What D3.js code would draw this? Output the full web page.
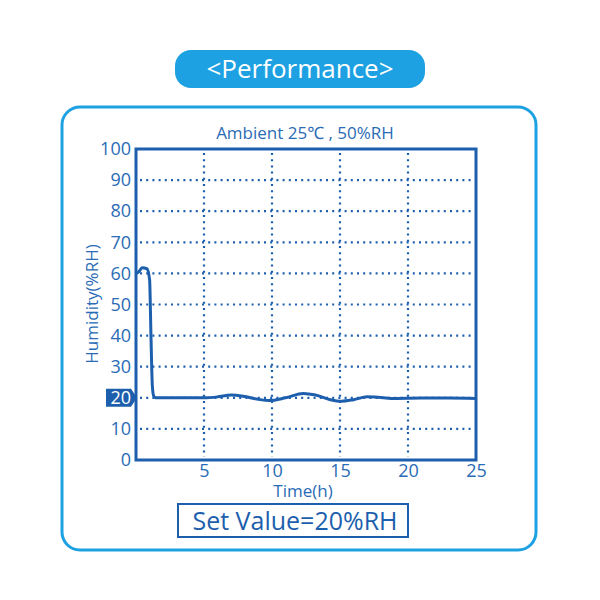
<!DOCTYPE html>
<html><head><meta charset="utf-8">
<script src="https://cdn.jsdelivr.net/npm/d3@7"></script>
<style>body{margin:0;background:#fff;}svg{display:block;font-family:"Open Sans","Noto Sans",sans-serif;}</style>
</head><body><svg id="c" width="600" height="600"></svg>
<script>
const pageTitle = "<Performance>";
const subTitle = "Ambient 25\u2103 , 50%RH";
const setValueLabel = "Set Value=20%RH";
const xLabel = "Time(h)";
const yLabel = "Humidity(%RH)";
const xTicks = [5, 10, 15, 20, 25];
const yTicks = [0, 10, 20, 30, 40, 50, 60, 70, 80, 90, 100];
const highlightTick = 20;
const timeH = [0, 0.2, 0.45, 0.8, 1.0, 1.1, 1.2, 1.3, 1.45, 3, 5, 6, 7, 8, 9, 9.8, 11, 12.3, 13.2, 14.3, 15.1, 16, 17, 18, 19, 21, 23, 25];
const humidity = [60, 60.5, 61.8, 61.5, 58, 40, 24, 20.6, 20, 20, 20, 20.3, 20.9, 20.4, 19.5, 19.1, 20, 21.4, 20.9, 19.4, 18.9, 19.4, 20.3, 20.1, 19.8, 19.9, 19.9, 19.8];

const svg = d3.select("#c");
const blue = "#1d5fad", light = "#1da1e2", textBlue = "#2a6bb5";

// outer frame
svg.append("rect").attr("x",62).attr("y",107).attr("width",474).attr("height",443)
  .attr("rx",18).attr("fill","#fff").attr("stroke",light).attr("stroke-width",3);
// title pill
svg.append("rect").attr("x",175).attr("y",50).attr("width",250).attr("height",38)
  .attr("rx",16).attr("fill",light);
svg.append("text").attr("x",300).attr("y",78).attr("text-anchor","middle")
  .attr("fill","#fff").attr("font-size",26).text(pageTitle);
svg.append("text").attr("x",305).attr("y",139).attr("text-anchor","middle")
  .attr("fill",textBlue).attr("font-size",17).text(subTitle);

const x = d3.scaleLinear().domain([0,25]).range([136,476]);
const y = d3.scaleLinear().domain([0,100]).range([460,149]);

// grid
const g = svg.append("g");
g.selectAll(".hg").data(yTicks.filter(d=>d>0&&d<100)).join("line")
  .attr("x1",x(0)+4).attr("x2",x(25)-3).attr("y1",d=>y(d)).attr("y2",d=>y(d))
  .attr("stroke",blue).attr("stroke-width",2.2).attr("stroke-dasharray","2 4.2");
g.selectAll(".vg").data(xTicks.filter(d=>d<25)).join("line")
  .attr("y1",y(100)+4).attr("y2",y(0)-3).attr("x1",d=>x(d)).attr("x2",d=>x(d))
  .attr("stroke",blue).attr("stroke-width",2.2).attr("stroke-dasharray","2 4.2");

// data line
const line = d3.line().x((d,i)=>x(timeH[i])).y(d=>y(d)).curve(d3.curveMonotoneX);
svg.append("path").datum(humidity).attr("d",line).attr("fill","none")
  .attr("stroke",blue).attr("stroke-width",3);

// frame axes
svg.append("rect").attr("x",x(0)).attr("y",y(100)).attr("width",x(25)-x(0)).attr("height",y(0)-y(100))
  .attr("fill","none").attr("stroke",blue).attr("stroke-width",3);

// y axis
const ya = svg.append("g").attr("transform",`translate(${x(0)-2},0)`)
  .call(d3.axisLeft(y).tickValues(yTicks).tickSize(0).tickPadding(3));
ya.select(".domain").remove();
ya.selectAll("text").attr("fill",d=>d===highlightTick?"#fff":textBlue).attr("font-size",18)
  .attr("font-family","'Open Sans',sans-serif");
const hy = y(highlightTick);
svg.insert("path", () => ya.node()).attr("d",`M106,${hy-9} L131,${hy-9} L137,${hy} L131,${hy+9} L106,${hy+9} Z`)
  .attr("fill",blue);

// x axis
const xa = svg.append("g").attr("transform",`translate(0,${y(0)+2})`)
  .call(d3.axisBottom(x).tickValues(xTicks).tickSize(0).tickPadding(2));
xa.select(".domain").remove();
xa.selectAll("text").attr("fill",textBlue).attr("font-size",18).attr("font-family","'Open Sans',sans-serif");

svg.append("text").attr("x",303).attr("y",497).attr("text-anchor","middle")
  .attr("fill",textBlue).attr("font-size",17).text(xLabel);
svg.append("text").attr("transform","translate(98,304) rotate(-90)").attr("text-anchor","middle")
  .attr("fill",textBlue).attr("font-size",17).text(yLabel);

// set value box
svg.append("rect").attr("x",178).attr("y",504).attr("width",230).attr("height",33)
  .attr("fill","#fff").attr("stroke",blue).attr("stroke-width",2);
svg.append("text").attr("x",295).attr("y",530).attr("text-anchor","middle")
  .attr("fill",blue).attr("font-size",25).text(setValueLabel);
</script></body></html>
